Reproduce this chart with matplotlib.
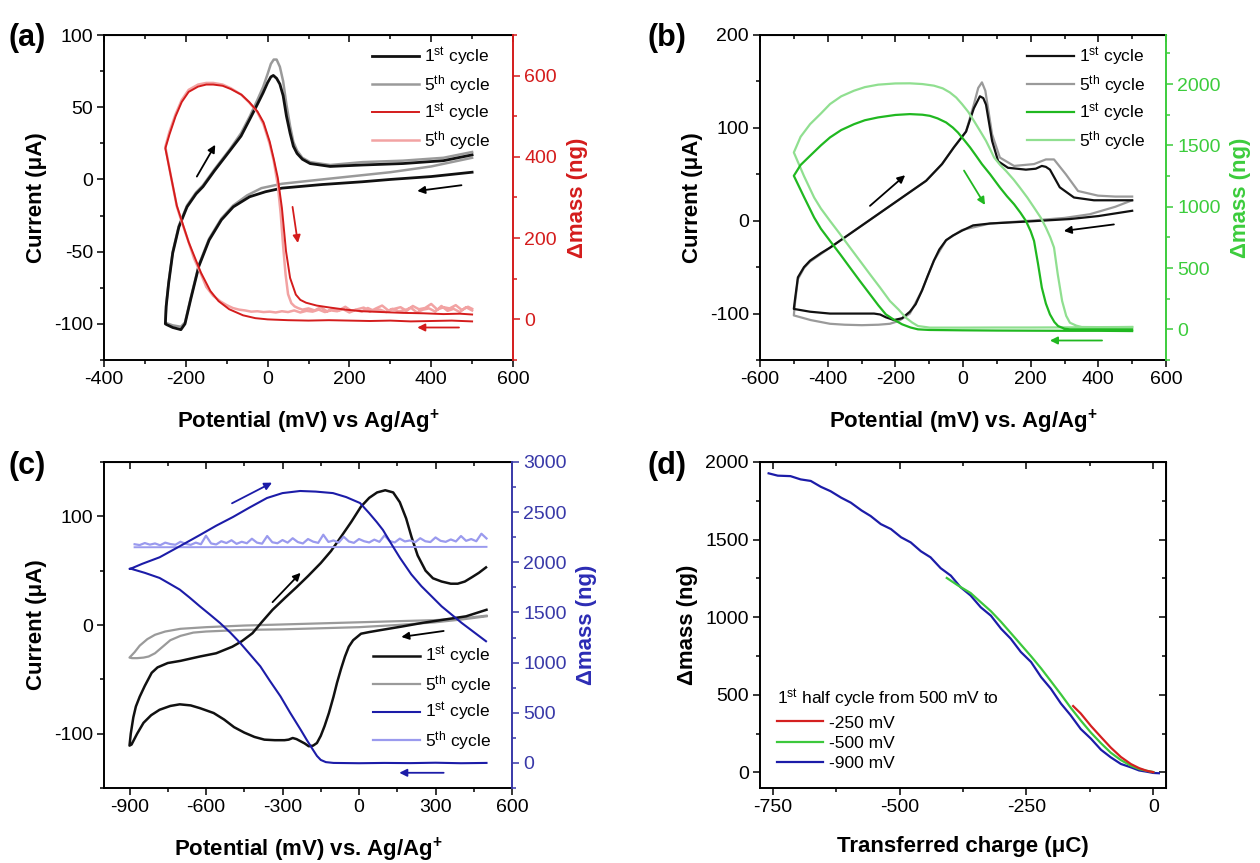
import matplotlib
matplotlib.use('Agg')
import matplotlib.pyplot as plt
from matplotlib.ticker import MultipleLocator

plt.rcParams['font.family'] = ['Liberation Sans', 'DejaVu Sans']
plt.rcParams['mathtext.fontset'] = 'custom'
plt.rcParams['mathtext.rm'] = 'Liberation Sans'
plt.rcParams['mathtext.it'] = 'Liberation Sans:italic'
plt.rcParams['mathtext.bf'] = 'Liberation Sans:bold'
plt.rcParams['axes.unicode_minus'] = False

# ---------------- Panel (a) data ----------------
a_cur1_x = [500, 400, 300, 232, 134, 35, -5, -44, -84, -113, -143, -168, -188, -202, -212, -232, -247, -250,
            -248, -242, -232, -217, -197, -175, -158, -130, -92, -65, -43, -25, -11, 0, 8, 14, 22, 30, 38, 46,
            55, 63, 72, 85, 104, 153, 232, 331, 430, 500]
a_cur1_y = [5, 2, 0, -1.6, -3.5, -6, -8.5, -12, -19, -28, -42, -60, -83, -100, -104, -102.5, -100.5, -100,
            -88, -72, -51, -33, -19, -10, -5, 6, 20, 30, 42, 52, 60, 67, 71, 72, 70, 66, 58, 44,
            32, 23, 18, 14, 11, 9, 10, 11, 13, 17]
a_cur5_x = [500, 400, 300, 200, 100, 35, -15, -50, -84, -113, -143, -168, -188, -202, -212, -232, -247, -250,
            -248, -242, -232, -217, -197, -175, -158, -130, -92, -65, -43, -25, -11, 0, 8, 15, 22, 30, 38, 46,
            55, 63, 72, 85, 104, 153, 232, 331, 430, 500]
a_cur5_y = [15, 9, 5, 2, -1, -3, -6, -11, -18, -27, -41, -59, -82, -99, -102, -101, -99.5, -99,
            -87, -71, -50, -32, -18, -9, -4, 7, 21, 32, 44, 55, 64, 73, 80, 83, 83, 78, 68, 52,
            37, 26, 20, 15, 12, 10, 12, 13, 15, 19]
a_mass1_x = [500, 450, 400, 350, 300, 250, 200, 150, 100, 50, 0, -30, -60, -94, -120, -140, -163, -193, -222, -250,
             -240, -225, -210, -193, -170, -150, -133, -110, -90, -64, -45, -25, -10, 5, 15, 25, 35, 45, 55, 69,
             80, 94, 120, 153, 190, 232, 280, 331, 380, 430, 470, 500]
a_mass1_y = [-5, -3, -4, -5, -3, -4, -3, -2, -3, -2, 0, 3, 10, 25, 45, 70, 115, 190, 280, 421,
             455, 500, 535, 560, 573, 578, 578, 575, 567, 553, 535, 512, 485, 438, 395, 348, 274, 168, 102, 61,
             48, 41, 34, 29, 24, 20, 18, 16, 15, 13, 14, 12]
a_mass5_x = [500, 485, 470, 455, 440, 425, 410, 395, 380, 365, 350, 335, 320, 305, 290, 275, 260, 245, 230, 215,
             200, 185, 170, 155, 140, 125, 110, 95, 80, 65, 50, 35, 20, 5, -10, -25, -40, -55, -70, -85, -100,
             -115, -133, -150, -163, -180, -193, -210, -222, -236, -250,
             -240, -225, -210, -193, -170, -150, -133, -110, -90, -64, -45, -25, -10, 5, 15, 25, 32, 38, 44, 50,
             58, 66, 74, 85, 100, 115, 130, 145, 160, 175, 190, 205, 220, 235, 250, 265, 280, 295, 310, 325,
             340, 355, 370, 385, 400, 415, 430, 445, 460, 475, 490, 500]
a_mass5_y = [22, 30, 18, 26, 21, 33, 19, 27, 24, 17, 29, 22, 20, 26, 18, 24, 21, 28, 19, 23,
             17, 25, 20, 22, 18, 24, 19, 21, 17, 22, 18, 20, 17, 19, 18, 20, 19, 22, 24, 28, 35,
             44, 58, 80, 112, 150, 190, 240, 278, 350, 425,
             462, 505, 540, 565, 578, 582, 582, 578, 569, 553, 534, 510, 480, 432, 390, 330, 260, 180, 110, 62,
             40, 32, 28, 24, 27, 22, 30, 20, 26, 23, 31, 21, 25, 29, 19, 27, 34, 22, 26, 30,
             21, 33, 25, 28, 38, 24, 30, 27, 35, 23, 31, 26]

# ---------------- Panel (b) data ----------------
b_cur1_x = [500, 400, 316, 198, 80, 30, -3, -30, -50, -70, -86, -105, -121, -140, -157, -180, -204, -228, -245,
            -263, -299, -350, -393, -452, -500, -497, -488, -470, -452, -420, -393, -322, -251, -180, -109, -62,
            -27, 9, 32, 50, 60, 68, 86, 104, 133, 186, 215, 233, 245, 257, 286, 328, 387, 450, 500]
b_cur1_y = [10.7, 5, 1.8, -0.7, -3, -5, -10.7, -16, -21, -31, -43, -60, -75, -90, -98, -105, -107, -104, -101,
            -100, -100, -100, -100, -98, -95, -86, -61, -50, -43, -35, -29, -11, 7, 25, 43, 61,
            79, 96, 121, 134, 132, 125, 86, 64, 57, 55, 56, 59, 58, 55, 36, 25, 22, 22, 22]
b_cur5_x = [500, 450, 375, 300, 198, 80, -3, -50, -86, -121, -157, -190, -216, -250, -299, -350, -393, -450, -500,
            -497, -488, -470, -452, -393, -322, -251, -180, -109, -62, -27, 9, 32, 45, 56, 66, 86, 109, 151,
            210, 245, 269, 304, 340, 399, 450, 500]
b_cur5_y = [22, 15, 7, 3, 0, -3, -10, -21, -43, -75, -100, -108, -111, -112, -112.5, -112, -111, -107, -102,
            -90, -63, -51, -44, -29, -11, 7, 25, 43, 61, 79, 96, 125, 143, 149, 140, 93, 68, 59,
            61, 66, 66, 50, 32, 27, 26, 26]
b_mass1_x = [500, 400, 316, 200, 100, 0, -100, -133, -155, -180, -205, -228, -250, -275, -305, -334, -363, -393,
             -420, -440, -470, -500, -480, -452, -420, -393, -360, -322, -290, -251, -200, -157, -120, -98, -75,
             -50, -30, -15, 3, 21, 40, 56, 80, 109, 130, 151, 170, 186, 200, 210, 222, 233, 245, 257, 270, 281,
             300, 316, 400, 500]
b_mass1_y = [-14, -12, -12, -11, -10, -8, -5, 0, 15, 41, 80, 122, 195, 286, 395, 503, 612, 721,
             820, 912, 1080, 1252, 1340, 1415, 1500, 1565, 1625, 1673, 1705, 1728, 1748, 1755, 1750, 1741, 1720,
             1687, 1645, 1605, 1545, 1483, 1410, 1347, 1265, 1157, 1085, 1020, 950, 884, 800, 721, 530, 340, 210,
             122, 60, 27, 5, 0, 0, 0]
b_mass5_x = [500, 400, 300, 200, 100, 0, -98, -133, -150, -169, -190, -216, -245, -275, -305, -334, -363, -393,
             -420, -440, -470, -500, -480, -452, -420, -393, -360, -322, -290, -251, -200, -157, -120, -86, -60,
             -39, -20, -3, 15, 32, 50, 68, 80, 92, 110, 127, 150, 168, 190, 210, 230, 245, 258, 269, 280, 293,
             305, 316, 335, 351, 400, 500]
b_mass5_y = [19, 17, 16, 15, 15, 14, 14, 27, 55, 95, 160, 231, 340, 449, 560, 667, 775, 884,
             985, 1075, 1250, 1442, 1570, 1673, 1760, 1837, 1900, 1946, 1975, 1995, 2005, 2006, 2000, 1987, 1965,
             1932, 1890, 1837, 1775, 1701, 1620, 1537, 1470, 1401, 1340, 1292, 1220, 1156, 1075, 993, 910, 830,
             750, 667, 450, 231, 110, 54, 30, 19, 18, 19]

# ---------------- Panel (c) data ----------------
c_cur1_x = [500, 420, 324, 250, 166, 87, 40, 8, -23, -40, -55, -70, -86, -100, -118, -135, -150, -165, -180,
            -197, -213, -229, -245, -260, -276, -292, -330, -371, -410, -450, -490, -529, -570, -624, -660, -703,
            -740, -782, -815, -845, -870, -892, -900,
            -895, -885, -875, -860, -840, -813, -790, -750, -700, -624, -560, -497, -460, -418, -380, -339, -290,
            -244, -200, -150, -110, -71, -30, 8, 40, 71, 103, 134, 160, 185, 206, 230, 261, 290, 324, 360, 387,
            415, 443, 470, 498]
c_cur1_y = [14, 8, 4.6, 2, -1.5, -4.6, -6.5, -8, -14, -20, -29, -40, -53, -66, -81, -93, -102, -108.6, -111,
            -111.6, -109, -107, -105, -104, -105.5, -106, -106, -105.5, -103, -99, -94, -87, -81, -76.5, -74, -73,
            -74.5, -78, -83, -90, -100, -110, -111,
            -100, -85, -75, -66, -56, -44, -39, -35, -33, -29, -26, -20, -15, -7.6, 3, 14, 25,
            35, 45, 57, 68, 81, 95, 109, 117, 122, 124, 122, 113, 98, 81, 64, 50, 43, 40, 38, 38,
            40, 44, 48, 53]
c_cur5_x = [500, 400, 300, 150, 0, -150, -300, -450, -600, -700, -760, -800, -830, -860, -880, -900,
            -890, -870, -845, -825, -800, -770, -740, -700, -650, -600, -450, -300, -150, 0, 150, 300, 400, 500]
c_cur5_y = [8.6, 6, 4.5, 3.5, 2.5, 1.5, 0.5, -0.5, -2, -3.5, -6, -9, -13, -19, -25, -30,
            -30.5, -30.5, -30, -29, -26, -20, -14, -10, -7, -6, -4.5, -4, -3, -2, 0, 2.5, 5, 8]
c_mass1_x = [500, 400, 300, 200, 100, 0, -100, -130, -150, -165, -181, -205, -229, -270, -308, -350, -387, -430,
             -466, -505, -545, -585, -624, -665, -703, -745, -782, -840, -892, -900,
             -892, -850, -782, -703, -624, -560, -494, -430, -361, -300, -231, -170, -102, -50, 4, 40, 70, 94,
             130, 161, 205, 245, 285, 324, 365, 403, 450, 498]
c_mass1_y = [0, -3, 2, -2, 0, -3, 0, 8, 30, 70, 133, 230, 332, 500, 664, 820, 963, 1090,
             1196, 1300, 1395, 1480, 1561, 1650, 1728, 1790, 1844, 1895, 1934, 1935,
             1940, 1985, 2050, 2160, 2272, 2365, 2452, 2545, 2641, 2690, 2711, 2705, 2690, 2650, 2591, 2490, 2400,
             2322, 2170, 2043, 1880, 1761, 1660, 1561, 1475, 1395, 1305, 1213]
c_mass5s_x = [-880, -600, -300, 0, 300, 500]
c_mass5s_y = [2150, 2151, 2152, 2152, 2153, 2154]
c_mass5n_x = [-880, -860, -840, -820, -800, -780, -760, -740, -720, -700, -680, -660, -640, -620, -600, -580,
              -560, -540, -520, -500, -480, -460, -440, -420, -400, -380, -360, -340, -320, -300, -280, -260,
              -240, -220, -200, -180, -160, -140, -120, -100, -80, -60, -40, -20, 0, 20, 40, 60, 80, 100, 120,
              140, 160, 180, 200, 220, 240, 260, 280, 300, 320, 340, 360, 380, 400, 420, 440, 460, 480, 500]
c_mass5n_y = [2180, 2172, 2192, 2176, 2188, 2170, 2196, 2182, 2175, 2205, 2184, 2174, 2196, 2180, 2265, 2188,
              2178, 2210, 2192, 2220, 2184, 2205, 2190, 2235, 2196, 2186, 2262, 2200, 2190, 2222, 2196, 2240,
              2202, 2188, 2232, 2206, 2194, 2275, 2203, 2218, 2196, 2255, 2208, 2194, 2232, 2210, 2198, 2226,
              2204, 2268, 2212, 2198, 2236, 2208, 2218, 2200, 2240, 2210, 2202, 2248, 2214, 2204, 2228, 2208,
              2262, 2214, 2232, 2210, 2285, 2238]

# ---------------- Panel (d) data ----------------
d_900_x = [-758, -740, -715, -695, -675, -655, -636, -615, -596, -575, -557, -537, -517, -497, -478, -458, -439,
           -419, -399, -380, -360, -340, -320, -300, -281, -261, -241, -221, -202, -182, -163, -143, -123, -103,
           -84, -64, -44, -28, -13, 0, 11]
d_900_y = [1927, 1912, 1909, 1888, 1878, 1840, 1812, 1770, 1738, 1688, 1652, 1600, 1568, 1515, 1482, 1425, 1386,
           1316, 1268, 1194, 1140, 1064, 1010, 926, 862, 776, 712, 614, 540, 444, 369, 280, 218, 146,
           98, 55, 33, 13, 5, -3, -5]
d_500_x = [-407, -385, -360, -340, -320, -300, -281, -261, -241, -221, -202, -182, -163, -143, -123, -103, -84,
           -64, -44, -28, -13, 0]
d_500_y = [1253, 1205, 1156, 1097, 1039, 970, 899, 824, 749, 670, 589, 503, 418, 335, 257, 188, 128,
           80, 43, 22, 11, 3]
d_250_x = [-158, -143, -123, -103, -84, -64, -44, -28, -13, 0]
d_250_y = [428, 380, 300, 228, 161, 100, 54, 28, 11, 2]

legend_cv = [r'1$^{\mathrm{st}}$ cycle', r'5$^{\mathrm{th}}$ cycle',
             r'1$^{\mathrm{st}}$ cycle', r'5$^{\mathrm{th}}$ cycle']
legend_d = ['-250 mV', '-500 mV', '-900 mV']

# ---------------- styling ----------------
W, H = 1260, 863
fig = plt.figure(figsize=(W / 100, H / 100), dpi=100)

TICK = 14
LAB = 16


def rect(l, t, r, b):
    return [l / W, 1 - b / H, (r - l) / W, (b - t) / H]


def style(ax, xlim, ylim, xmaj, xmin, ymaj, ymin, right_in=False):
    ax.set_xlim(xlim)
    ax.set_ylim(ylim)
    ax.xaxis.set_major_locator(MultipleLocator(xmaj))
    ax.xaxis.set_minor_locator(MultipleLocator(xmin))
    ax.yaxis.set_major_locator(MultipleLocator(ymaj))
    ax.yaxis.set_minor_locator(MultipleLocator(ymin))
    ax.tick_params(which='both', direction='out', labelsize=TICK, width=1.1, pad=3)
    ax.tick_params(which='major', length=5)
    ax.tick_params(which='minor', length=3)
    for s in ax.spines.values():
        s.set_linewidth(1.4)
    top = ax.secondary_xaxis('top')
    top.xaxis.set_major_locator(MultipleLocator(xmaj))
    top.xaxis.set_minor_locator(MultipleLocator(xmin))
    top.tick_params(which='both', direction='in', labeltop=False, width=1.1)
    top.tick_params(which='major', length=5)
    top.tick_params(which='minor', length=3)
    if right_in:
        rt = ax.secondary_yaxis('right')
        rt.yaxis.set_major_locator(MultipleLocator(ymaj))
        rt.yaxis.set_minor_locator(MultipleLocator(ymin))
        rt.tick_params(which='both', direction='in', labelright=False, width=1.1)
        rt.tick_params(which='major', length=5)
        rt.tick_params(which='minor', length=3)
    else:
        ax.spines['right'].set_visible(False)


def twin(ax, ylim, ymaj, ymin, col, labcol):
    tw = ax.twinx()
    tw.set_ylim(ylim)
    tw.yaxis.set_major_locator(MultipleLocator(ymaj))
    tw.yaxis.set_minor_locator(MultipleLocator(ymin))
    for k in ['top', 'left', 'bottom']:
        tw.spines[k].set_visible(False)
    tw.spines['right'].set_color(col)
    tw.spines['right'].set_linewidth(1.4)
    tw.tick_params(which='both', direction='out', colors=col, labelsize=TICK, width=1.1, pad=3)
    tw.tick_params(which='major', length=5)
    tw.tick_params(which='minor', length=3)
    tw.set_ylabel('Δmass (ng)', fontsize=LAB, fontweight='bold', color=labcol, labelpad=7)
    return tw


def arrow(ax, start, end, col):
    ax.annotate('', xy=end, xytext=start,
                arrowprops=dict(arrowstyle='-|>', color=col, lw=1.3, mutation_scale=11,
                                shrinkA=0, shrinkB=0))


# ---------------- (a) ----------------
axA = fig.add_axes(rect(104, 35, 513, 360))
style(axA, (-400, 600), (-125, 100), 200, 100, 50, 25)
red, pink = '#d41c1c', '#f2a3a3'
l5, = axA.plot(a_cur5_x, a_cur5_y, color='#9a9a9a', lw=1.8)
l1, = axA.plot(a_cur1_x, a_cur1_y, color='#111111', lw=2.0)
twA = twin(axA, (-100, 700), 200, 100, red, red)
m5, = twA.plot(a_mass5_x, a_mass5_y, color=pink, lw=1.8)
m1, = twA.plot(a_mass1_x, a_mass1_y, color=red, lw=1.4)
axA.set_ylabel('Current (μA)', fontsize=LAB, fontweight='bold', labelpad=5)
axA.set_xlabel(r'Potential (mV) vs Ag/Ag$^{\mathbf{+}}$', fontsize=LAB, fontweight='bold', labelpad=14)
arrow(axA, (-173, 2), (-128, 24), 'black')
arrow(axA, (474, -4), (366, -8), 'black')
arrow(axA, (61, -19), (74, -44), red)
arrow(axA, (468, -102.5), (366, -102.5), red)
twA.legend([l1, l5, m1, m5], legend_cv, loc='upper right', bbox_to_anchor=(0.97, 1.0), frameon=False,
           fontsize=12.5, handlelength=2.7, labelspacing=0.3, handletextpad=0.3, borderaxespad=0.2)

# ---------------- (b) ----------------
axB = fig.add_axes(rect(760, 35, 1166, 360))
style(axB, (-600, 600), (-150, 200), 200, 100, 100, 50)
green, lgreen = '#20b820', '#90df90'
k5, = axB.plot(b_cur5_x, b_cur5_y, color='#9a9a9a', lw=1.6)
k1, = axB.plot(b_cur1_x, b_cur1_y, color='#111111', lw=1.6)
twB = twin(axB, (-250, 2400), 500, 250, '#3ccc3c', '#3ccc3c')
g5, = twB.plot(b_mass5_x, b_mass5_y, color=lgreen, lw=1.6)
g1, = twB.plot(b_mass1_x, b_mass1_y, color=green, lw=1.6)
axB.set_ylabel('Current (μA)', fontsize=LAB, fontweight='bold', labelpad=5)
axB.set_xlabel(r'Potential (mV) vs. Ag/Ag$^{\mathbf{+}}$', fontsize=LAB, fontweight='bold', labelpad=14)
arrow(axB, (-275, 16), (-171, 49), 'black')
arrow(axB, (3, 54), (65, 17), green)
arrow(axB, (446, -4), (298, -11), 'black')
arrow(axB, (411, -129), (257, -129), green)
twB.legend([k1, k5, g1, g5], legend_cv, loc='upper right', bbox_to_anchor=(0.975, 1.0), frameon=False,
           fontsize=12.5, handlelength=2.7, labelspacing=0.3, handletextpad=0.3, borderaxespad=0.2)

# ---------------- (c) ----------------
axC = fig.add_axes(rect(104, 462, 512, 788))
style(axC, (-1000, 600), (-150, 150), 300, 150, 100, 50)
navy, lblue = '#1c1ca8', '#9a9aee'
c5, = axC.plot(c_cur5_x, c_cur5_y, color='#9a9a9a', lw=1.6)
c1, = axC.plot(c_cur1_x, c_cur1_y, color='#111111', lw=1.8)
twC = twin(axC, (-250, 3000), 500, 250, '#3838a8', '#2c2cb4')
twC.plot(c_mass5s_x, c_mass5s_y, color=lblue, lw=1.4)
n5, = twC.plot(c_mass5n_x, c_mass5n_y, color=lblue, lw=1.6)
n1, = twC.plot(c_mass1_x, c_mass1_y, color=navy, lw=1.5)
axC.set_ylabel('Current (μA)', fontsize=LAB, fontweight='bold', labelpad=5)
axC.set_xlabel(r'Potential (mV) vs. Ag/Ag$^{\mathbf{+}}$', fontsize=LAB, fontweight='bold', labelpad=14)
arrow(axC, (-498, 112), (-341, 131), navy)
arrow(axC, (-339, 21), (-229, 48), 'black')
arrow(axC, (332, -5.5), (166, -11), 'black')
arrow(axC, (332, -136), (158, -136), navy)
twC.legend([c1, c5, n1, n5], legend_cv, loc='lower right', bbox_to_anchor=(0.975, 0.08), frameon=False,
           fontsize=12.5, handlelength=2.7, labelspacing=0.3, handletextpad=0.3, borderaxespad=0.2)

# ---------------- (d) ----------------
axD = fig.add_axes(rect(760, 462, 1166, 788))
style(axD, (-775, 25), (-100, 2000), 250, 125, 500, 250, right_in=True)
h9, = axD.plot(d_900_x, d_900_y, color='#1c1ca8', lw=1.6)
h5, = axD.plot(d_500_x, d_500_y, color='#3cc83c', lw=1.6)
h2, = axD.plot(d_250_x, d_250_y, color='#d42020', lw=1.6)
axD.set_ylabel('Δmass (ng)', fontsize=LAB, fontweight='bold', labelpad=5)
axD.set_xlabel('Transferred charge (μC)', fontsize=LAB, fontweight='bold', labelpad=14)
axD.legend([h2, h5, h9], legend_d, loc='upper left', bbox_to_anchor=(0.015, 0.34), frameon=False,
           fontsize=12.5, handlelength=2.7, labelspacing=0.3, handletextpad=0.3, borderaxespad=0.2,
           title=r'1$^{\mathrm{st}}$ half cycle from 500 mV to', title_fontsize=12.5, alignment='left')

# panel labels
for txt, x, y in [('(a)', 8, 38), ('(b)', 648, 38), ('(c)', 8, 466), ('(d)', 648, 466)]:
    fig.text(x / W, 1 - y / H, txt, fontsize=22, fontweight='bold', va='center', ha='left')

fig.savefig('out.png', dpi=100)
